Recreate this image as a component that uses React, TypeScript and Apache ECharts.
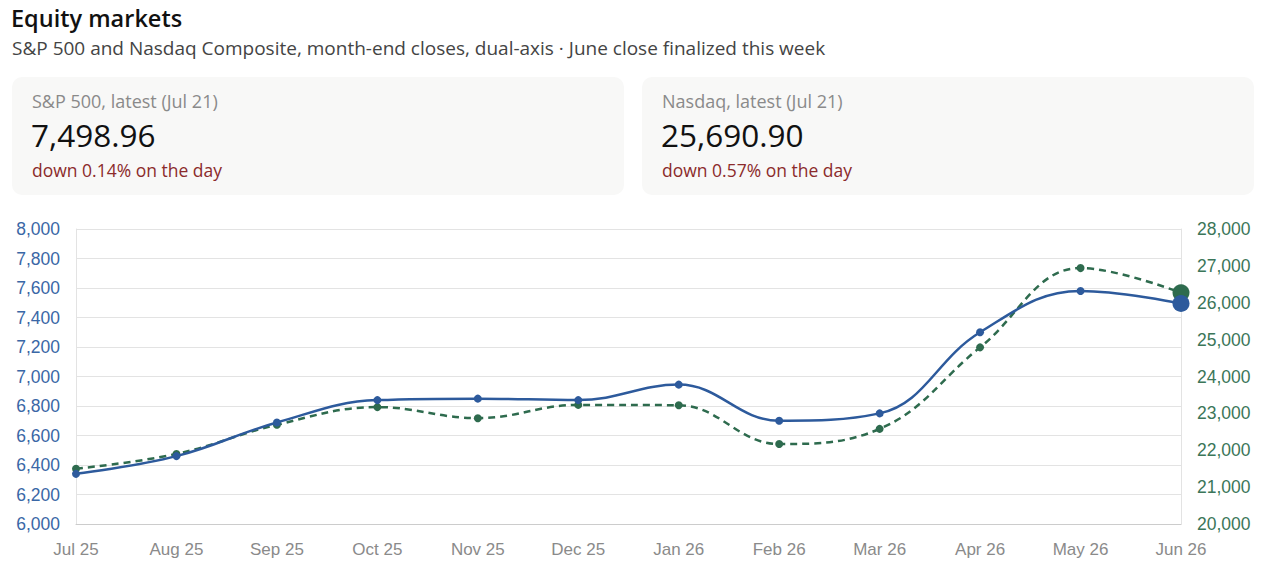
import React, { useEffect, useRef } from "react";
import * as echarts from "echarts";

const months = ["Jul 25", "Aug 25", "Sep 25", "Oct 25", "Nov 25", "Dec 25", "Jan 26", "Feb 26", "Mar 26", "Apr 26", "May 26", "Jun 26"];
const spx = [6340, 6460, 6688, 6840, 6850, 6840, 6945, 6700, 6750, 7300, 7580, 7495];
const ndx = [21500, 21900, 22690, 23170, 22870, 23230, 23220, 22170, 22580, 24790, 26940, 26270];

const BLUE = "#2d5a9c";
const GREEN = "#2e6b4e";
const HFONT = "'Open Sans', 'Noto Sans', sans-serif";
const AFONT = "'Liberation Sans', Arial, sans-serif";

function lastBig(arr: number[]) {
  return arr.map((v, i) => (i === arr.length - 1 ? { value: v, symbolSize: 17 } : v));
}

function Card({ left, label, value, change }: { left: number; label: string; value: string; change: string }) {
  return (
    <div style={{ position: "absolute", left, top: 77, width: 612, height: 118, background: "#f8f8f7", borderRadius: 10 }}>
      <div style={{ position: "absolute", left: 20, top: 12, fontSize: 18, color: "#8a8a8a", whiteSpace: "nowrap" }}>{label}</div>
      <div style={{ position: "absolute", left: 19, top: 36, fontSize: 31.5, color: "#111", whiteSpace: "nowrap" }}>{value}</div>
      <div style={{ position: "absolute", left: 20, top: 81, fontSize: 17.5, color: "#8b2b2b", whiteSpace: "nowrap" }}>{change}</div>
    </div>
  );
}

export default function App() {
  const ref = useRef<HTMLDivElement>(null);
  useEffect(() => {
    if (!ref.current) return;
    const chart = echarts.init(ref.current, undefined, { renderer: "svg" });
    const fmt = (v: number) => v.toLocaleString("en-US");
    chart.setOption({
      animation: false,
      grid: { left: 76, right: 81, top: 229, bottom: 52 },
      xAxis: {
        type: "category",
        data: months,
        boundaryGap: false,
        axisLine: { lineStyle: { color: "#cccccc" } },
        axisTick: { show: false },
        axisLabel: { color: "#8a8a8a", fontSize: 17, fontFamily: AFONT, margin: 17 },
      },
      yAxis: [
        {
          type: "value",
          min: 6000,
          max: 8000,
          interval: 200,
          axisLine: { show: true, lineStyle: { color: "#e3e3e3" } },
          splitLine: { lineStyle: { color: "#e3e3e3" } },
          axisLabel: { color: "#3a67a6", fontSize: 17.5, fontFamily: AFONT, margin: 16, formatter: fmt },
        },
        {
          type: "value",
          min: 20000,
          max: 28000,
          interval: 1000,
          position: "right",
          axisLine: { show: true, lineStyle: { color: "#e3e3e3" } },
          splitLine: { show: false },
          axisLabel: { color: "#3b7659", fontSize: 17.5, fontFamily: AFONT, margin: 16, formatter: fmt },
        },
      ],
      series: [
        {
          name: "Nasdaq",
          type: "line",
          yAxisIndex: 1,
          data: lastBig(ndx),
          smooth: 0.4,
          symbol: "circle",
          symbolSize: 8,
          lineStyle: { color: GREEN, width: 2.5, type: [7, 5] },
          itemStyle: { color: GREEN },
          z: 2,
        },
        {
          name: "S&P 500",
          type: "line",
          yAxisIndex: 0,
          data: lastBig(spx),
          smooth: 0.4,
          symbol: "circle",
          symbolSize: 8,
          lineStyle: { color: BLUE, width: 2.5 },
          itemStyle: { color: BLUE },
          z: 3,
        },
      ],
    });
    return () => chart.dispose();
  }, []);

  return (
    <div style={{ position: "fixed", left: 0, top: 0, width: 1262, height: 576, background: "#fff", fontFamily: HFONT, overflow: "hidden" }}>
      <div ref={ref} style={{ position: "absolute", left: 0, top: 0, width: 1262, height: 576 }} />
      <div style={{ position: "absolute", left: 11, top: 2, fontSize: 23.5, fontWeight: 600, color: "#111", whiteSpace: "nowrap" }}>Equity markets</div>
      <div style={{ position: "absolute", left: 12, top: 35, fontSize: 19, color: "#444", whiteSpace: "nowrap" }}>
        S&amp;P 500 and Nasdaq Composite, month-end closes, dual-axis · June close finalized this week
      </div>
      <Card left={12} label="S&P 500, latest (Jul 21)" value="7,498.96" change="down 0.14% on the day" />
      <Card left={642} label="Nasdaq, latest (Jul 21)" value="25,690.90" change="down 0.57% on the day" />
    </div>
  );
}
